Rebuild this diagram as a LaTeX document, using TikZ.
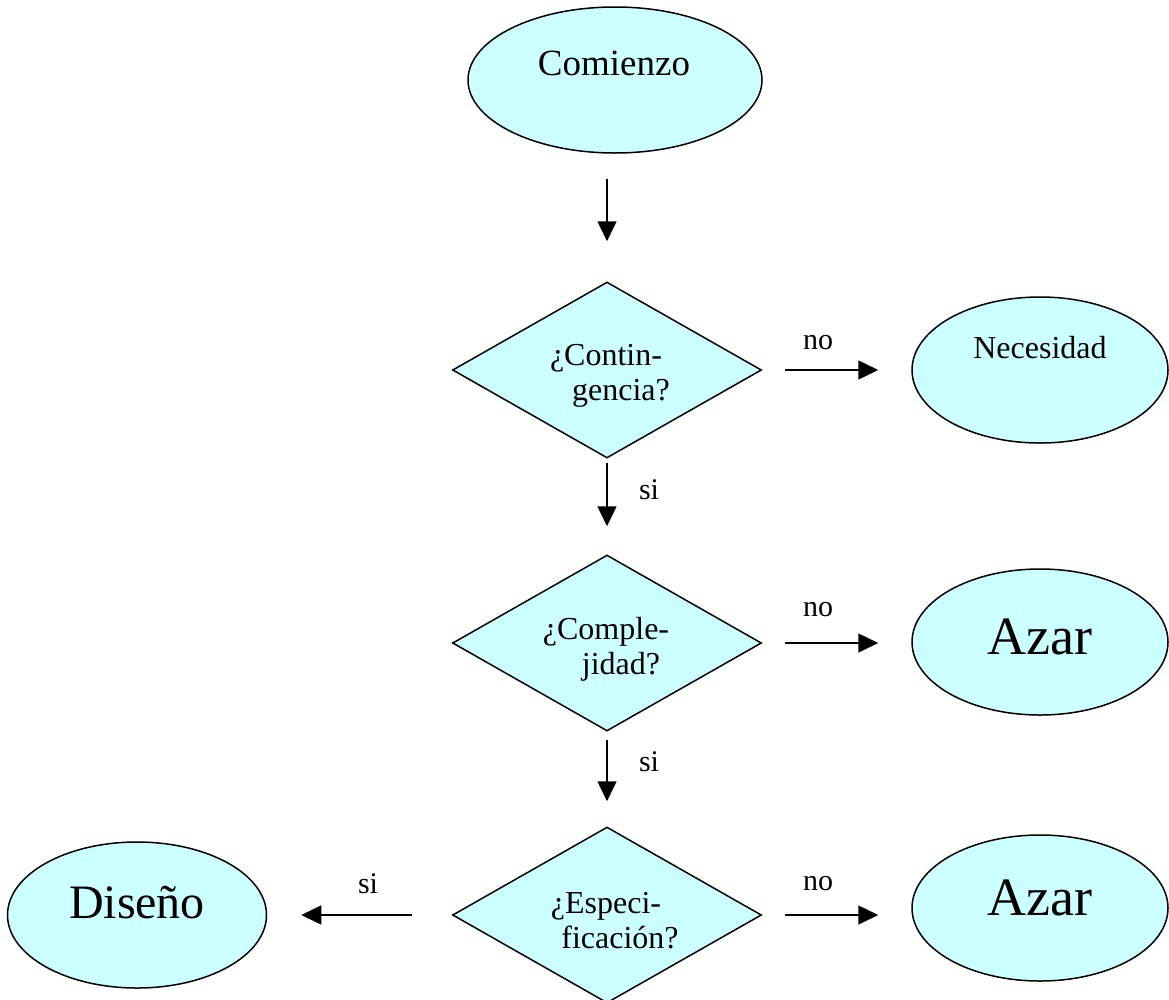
\documentclass[tikz,border=0pt]{standalone}
\usepackage{fontspec}
\setmainfont{Liberation Serif}
\usetikzlibrary{shapes.geometric,arrows.meta}
\definecolor{boxfill}{HTML}{CCFFFF}
\tikzset{
  oval/.style={ellipse,draw=black,fill=boxfill,line width=1.5pt,inner sep=0pt,minimum width=256pt,minimum height=146pt},
  decision/.style={diamond,draw=black,fill=boxfill,line width=1.5pt,inner sep=0pt,minimum width=309pt,minimum height=176pt},
  qtext/.style={align=center,font=\fontsize{32}{35}\selectfont},
  flow/.style={line width=1.5pt,-{Triangle[length=20pt,width=19pt]}},
  lbl/.style={font=\fontsize{30}{32}\selectfont},
  big/.style={font=\fontsize{54}{60}\selectfont}
}
\begin{document}
\begin{tikzpicture}[x=1pt,y=-1pt]
\useasboundingbox (0,0) rectangle (1169,999);
\clip (0,0) rectangle (1169,999);
% nodes
\node[oval,minimum width=294pt] (start) at (615,80) {};
\node[font=\fontsize{37}{40}\selectfont] (startt) at (614,63) {Comienzo};
\node[decision] (d1) at (607,370) {};
\node[qtext] (d1t) at (606,376) {¿Contin-\\\hspace*{30pt}gencia?};
\node[decision] (d2) at (607,643) {};
\node[qtext] (d2t) at (606,649) {¿Comple-\\\hspace*{30pt}jidad?};
\node[decision] (d3) at (607,915) {};
\node[qtext] (d3t) at (606,921) {¿Especi-\\\hspace*{28pt}ficación?};
\node[oval] (nec) at (1040,370) {};
\node[font=\fontsize{32}{36}\selectfont] (nect) at (1040,348) {Necesidad};
\node[oval] (az1) at (1040,642) {};
\node[big] (az1t) at (1040,637) {Azar};
\node[oval] (az2) at (1040,908) {};
\node[big] (az2t) at (1040,898) {Azar};
\node[oval,minimum width=259pt] (dis) at (137,915) {};
\node[font=\fontsize{48}{54}\selectfont] (dist) at (137,903) {Diseño};
% connectors
\draw[flow,shorten <=25pt,shorten >=40pt] (d1.north |- start.south) -- (d1.north);
\draw[flow,shorten <=23pt,shorten >=33pt] (d1.east) -- (nec.west |- d1.east);
\draw[flow,shorten <=4pt,shorten >=28pt] (d1.south) -- (d2.north);
\draw[flow,shorten <=23pt,shorten >=33pt] (d2.east) -- (az1.west |- d2.east);
\draw[flow,shorten <=8pt,shorten >=25pt] (d2.south) -- (d3.north);
\draw[flow,shorten <=23pt,shorten >=33pt] (d3.east) -- (az2.west |- d3.east);
\draw[flow,shorten <=40pt,shorten >=34pt] (d3.west) -- (dis.east |- d3.west);
% edge labels
\node[lbl] (n1) at (818,343) {no};
\node[lbl] (n2) at (818,610) {no};
\node[lbl] (n3) at (818,884) {no};
\node[lbl] (s1) at (649,490) {si};
\node[lbl] (s2) at (649,762) {si};
\node[lbl] (s3) at (368,884) {si};
\end{tikzpicture}
\end{document}
